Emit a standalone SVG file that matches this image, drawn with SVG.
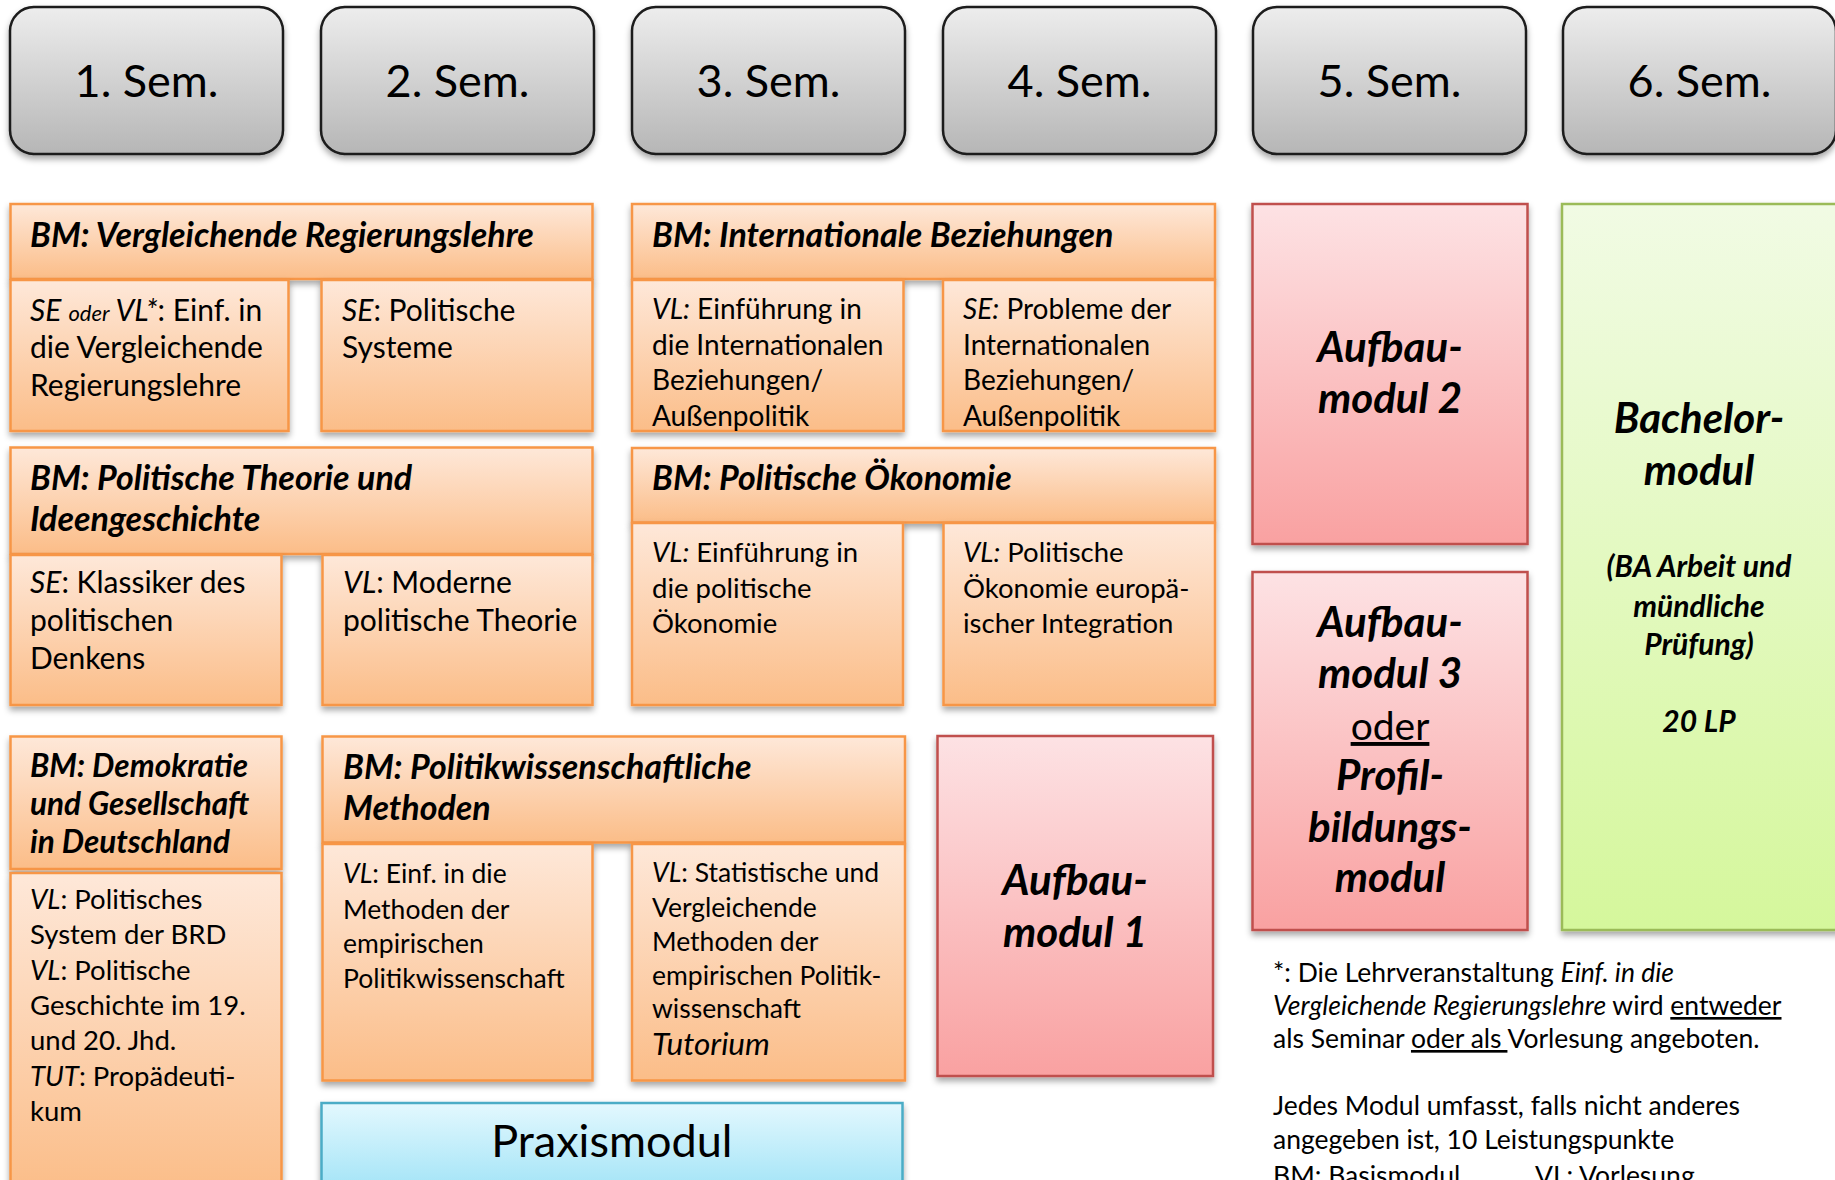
<svg xmlns="http://www.w3.org/2000/svg" width="1835" height="1180" viewBox="0 0 1835 1180">
<defs>
<linearGradient id="gSem" x1="0" y1="0" x2="0" y2="1"><stop offset="0" stop-color="#ededed"/><stop offset="1" stop-color="#b6b6b6"/></linearGradient>
<linearGradient id="gOr" x1="0" y1="0" x2="0" y2="1"><stop offset="0" stop-color="#fee8d9"/><stop offset="1" stop-color="#fbbd88"/></linearGradient>
<linearGradient id="gPk" x1="0" y1="0" x2="0" y2="1"><stop offset="0" stop-color="#fde2e4"/><stop offset="1" stop-color="#f9a1a1"/></linearGradient>
<linearGradient id="gGr" x1="0" y1="0" x2="0" y2="1"><stop offset="0" stop-color="#f1fbe4"/><stop offset="1" stop-color="#d5f79c"/></linearGradient>
<linearGradient id="gBl" x1="0" y1="0" x2="0" y2="1"><stop offset="0" stop-color="#e3f8fe"/><stop offset="1" stop-color="#9de2f6"/></linearGradient>
<filter id="sh" x="-10%" y="-10%" width="120%" height="130%"><feDropShadow dx="0" dy="4" stdDeviation="3" flood-color="#000" flood-opacity="0.35"/></filter>
</defs>
<style>
text{font-family:Lato,"Liberation Sans",sans-serif;fill:#000}
.sem{fill:url(#gSem);stroke:#1a1a1a;stroke-width:2.5;filter:url(#sh)}
.or{fill:url(#gOr);stroke:#f79646;stroke-width:2.5;filter:url(#sh)}
.pk{fill:url(#gPk);stroke:#c0504d;stroke-width:2.5;filter:url(#sh)}
.gr{fill:url(#gGr);stroke:#9bbb59;stroke-width:2.5;filter:url(#sh)}
.bl{fill:url(#gBl);stroke:#4bacc6;stroke-width:2.5;filter:url(#sh)}
.st{font-size:45px;text-anchor:middle}
.h{font-size:34px;font-weight:bold;font-style:italic}
.hs{font-size:31.5px;font-weight:bold;font-style:italic}
.s{font-size:30px}
.s28{font-size:28px}
.s27{font-size:27.5px}
.s26{font-size:26.5px}
.i{font-style:italic}
.big{font-size:42px;font-weight:bold;font-style:italic;text-anchor:middle}
.mid{font-size:30px;font-weight:bold;font-style:italic;text-anchor:middle}
.fn{font-size:26.5px}
</style>

<g id="sem1"><rect class="sem" x="10" y="7" width="273" height="147" rx="24"/><text class="st" x="146.5" y="97">1. Sem.</text></g>
<g id="sem2"><rect class="sem" x="321" y="7" width="273" height="147" rx="24"/><text class="st" x="457.5" y="97">2. Sem.</text></g>
<g id="sem3"><rect class="sem" x="632" y="7" width="273" height="147" rx="24"/><text class="st" x="768.5" y="97">3. Sem.</text></g>
<g id="sem4"><rect class="sem" x="943" y="7" width="273" height="147" rx="24"/><text class="st" x="1079.5" y="97">4. Sem.</text></g>
<g id="sem5"><rect class="sem" x="1253" y="7" width="273" height="147" rx="24"/><text class="st" x="1389.5" y="97">5. Sem.</text></g>
<g id="sem6"><rect class="sem" x="1563" y="7" width="273" height="147" rx="24"/><text class="st" x="1699.5" y="97">6. Sem.</text></g>

<g id="bm-vr">
<rect class="or" x="10.5" y="204" width="582" height="75"/>
<text class="h" x="30" y="247">BM: Vergleichende Regierungslehre</text>
<rect class="or" x="10.5" y="280" width="278" height="151"/>
<text class="s" x="30" y="321"><tspan class="i">SE </tspan><tspan class="i" font-size="22">oder</tspan><tspan class="i"> VL*</tspan>: Einf. in</text>
<text class="s" x="30" y="358">die Vergleichende</text>
<text class="s" x="30" y="395.5">Regierungslehre</text>
<rect class="or" x="321.5" y="280" width="271" height="151"/>
<text class="s" x="342" y="321"><tspan class="i">SE</tspan>: Politische</text>
<text class="s" x="342" y="358">Systeme</text>
</g>

<g id="bm-ib">
<rect class="or" x="632" y="204" width="583" height="75"/>
<text class="h" x="652" y="247">BM: Internationale Beziehungen</text>
<rect class="or" x="632" y="280" width="271.5" height="151"/>
<text class="s28" x="652" y="319"><tspan class="i">VL:</tspan> Einführung in</text>
<text class="s28" x="652" y="354.5">die Internationalen</text>
<text class="s28" x="652" y="390">Beziehungen/</text>
<text class="s28" x="652" y="425.5">Außenpolitik</text>
<rect class="or" x="943" y="280" width="272" height="151"/>
<text class="s28" x="963" y="319"><tspan class="i">SE:</tspan> Probleme der</text>
<text class="s28" x="963" y="354.5">Internationalen</text>
<text class="s28" x="963" y="390">Beziehungen/</text>
<text class="s28" x="963" y="425.5">Außenpolitik</text>
</g>

<g id="bm-pt">
<rect class="or" x="10.5" y="447.5" width="582" height="106.5"/>
<text class="h" x="30" y="490">BM: Politische Theorie und</text>
<text class="h" x="30" y="531">Ideengeschichte</text>
<rect class="or" x="10.5" y="555" width="271" height="150"/>
<text class="s" x="30" y="593"><tspan class="i">SE</tspan>: Klassiker des</text>
<text class="s" x="30" y="631">politischen</text>
<text class="s" x="30" y="669">Denkens</text>
<rect class="or" x="322.5" y="555" width="270" height="150"/>
<text class="s" x="343" y="593"><tspan class="i">VL</tspan>: Moderne</text>
<text class="s" x="343" y="631">politische Theorie</text>
</g>

<g id="bm-poe">
<rect class="or" x="632" y="448" width="583" height="74.5"/>
<text class="h" x="652" y="490">BM: Politische Ökonomie</text>
<rect class="or" x="632" y="523" width="271" height="182"/>
<text class="s27" x="652" y="562"><tspan class="i">VL:</tspan> Einführung in</text>
<text class="s27" x="652" y="598">die politische</text>
<text class="s27" x="652" y="633">Ökonomie</text>
<rect class="or" x="943.5" y="523" width="271.5" height="182"/>
<text class="s27" x="963" y="562"><tspan class="i">VL:</tspan> Politische</text>
<text class="s27" x="963" y="598">Ökonomie europä-</text>
<text class="s27" x="963" y="633">ischer Integration</text>
</g>

<g id="bm-dg">
<rect class="or" x="10.5" y="736.5" width="271" height="132.5"/>
<text class="hs" x="30" y="777">BM: Demokratie</text>
<text class="hs" x="30" y="815">und Gesellschaft</text>
<text class="hs" x="30" y="853">in Deutschland</text>
<rect class="or" x="10.5" y="873" width="271" height="320"/>
<text class="s27" x="30" y="909"><tspan class="i">VL</tspan>: Politisches</text>
<text class="s27" x="30" y="944">System der BRD</text>
<text class="s27" x="30" y="980"><tspan class="i">VL</tspan>: Politische</text>
<text class="s27" x="30" y="1015">Geschichte im 19.</text>
<text class="s27" x="30" y="1050">und 20. Jhd.</text>
<text class="s27" x="30" y="1086"><tspan class="i">TUT</tspan>: Propädeuti-</text>
<text class="s27" x="30" y="1121">kum</text>
</g>

<g id="bm-pm">
<rect class="or" x="322.5" y="736.5" width="582.5" height="106"/>
<text class="h" x="343" y="779">BM: Politikwissenschaftliche</text>
<text class="h" x="343" y="820">Methoden</text>
<rect class="or" x="322.5" y="844" width="270" height="236.5"/>
<text class="s26" x="343" y="883"><tspan class="i">VL</tspan>: Einf. in die</text>
<text class="s26" x="343" y="919">Methoden der</text>
<text class="s26" x="343" y="953">empirischen</text>
<text class="s26" x="343" y="988">Politikwissenschaft</text>
<rect class="or" x="632" y="844" width="273" height="236.5"/>
<text class="s26" x="652" y="882"><tspan class="i">VL</tspan>: Statistische und</text>
<text class="s26" x="652" y="917">Vergleichende</text>
<text class="s26" x="652" y="951">Methoden der</text>
<text class="s26" x="652" y="985">empirischen Politik-</text>
<text class="s26" x="652" y="1018">wissenschaft</text>
<text class="i" x="652" y="1055" font-size="31.5">Tutorium</text>
</g>

<g id="praxis">
<rect class="bl" x="321.5" y="1103" width="581" height="95"/>
<text x="611.8" y="1157" font-size="45" text-anchor="middle">Praxismodul</text>
</g>

<g id="am1">
<rect class="pk" x="937.5" y="736" width="275.5" height="340"/>
<text class="big" x="1075" y="895">Aufbau-</text>
<text class="big" x="1075" y="947">modul 1</text>
</g>

<g id="am2">
<rect class="pk" x="1252.5" y="204" width="275" height="340"/>
<text class="big" x="1390" y="362">Aufbau-</text>
<text class="big" x="1390" y="413">modul 2</text>
</g>

<g id="am3">
<rect class="pk" x="1252.5" y="572" width="275" height="358"/>
<text class="big" x="1390" y="637">Aufbau-</text>
<text class="big" x="1390" y="688">modul 3</text>
<text x="1390" y="740" font-size="39" text-anchor="middle" text-decoration="underline">oder</text>
<text class="big" x="1390" y="790">Profil-</text>
<text class="big" x="1390" y="842">bildungs-</text>
<text class="big" x="1390" y="892">modul</text>
</g>

<g id="bachelor">
<rect class="gr" x="1562" y="204" width="280" height="726"/>
<text class="big" x="1699" y="433">Bachelor-</text>
<text class="big" x="1699" y="485">modul</text>
<text class="mid" x="1699" y="577">(BA Arbeit und</text>
<text class="mid" x="1699" y="617">mündliche</text>
<text class="mid" x="1699" y="655">Prüfung)</text>
<text class="mid" x="1699" y="732" font-size="29">20 LP</text>
</g>

<g id="footnote">
<text class="fn" x="1273" y="982">*: Die Lehrveranstaltung <tspan class="i">Einf. in die</tspan></text>
<text class="fn" x="1273" y="1015"><tspan class="i">Vergleichende Regierungslehre</tspan> wird <tspan text-decoration="underline">entweder</tspan></text>
<text class="fn" x="1273" y="1048">als Seminar <tspan text-decoration="underline">oder als </tspan>Vorlesung angeboten.</text>
<text class="fn" x="1273" y="1115">Jedes Modul umfasst, falls nicht anderes</text>
<text class="fn" x="1273" y="1149">angegeben ist, 10 Leistungspunkte</text>
<text class="fn" x="1273" y="1185">BM: Basismodul</text>
<text class="fn" x="1535" y="1185">VL: Vorlesung</text>
</g>

<g id="connectors"></g>
</svg>
